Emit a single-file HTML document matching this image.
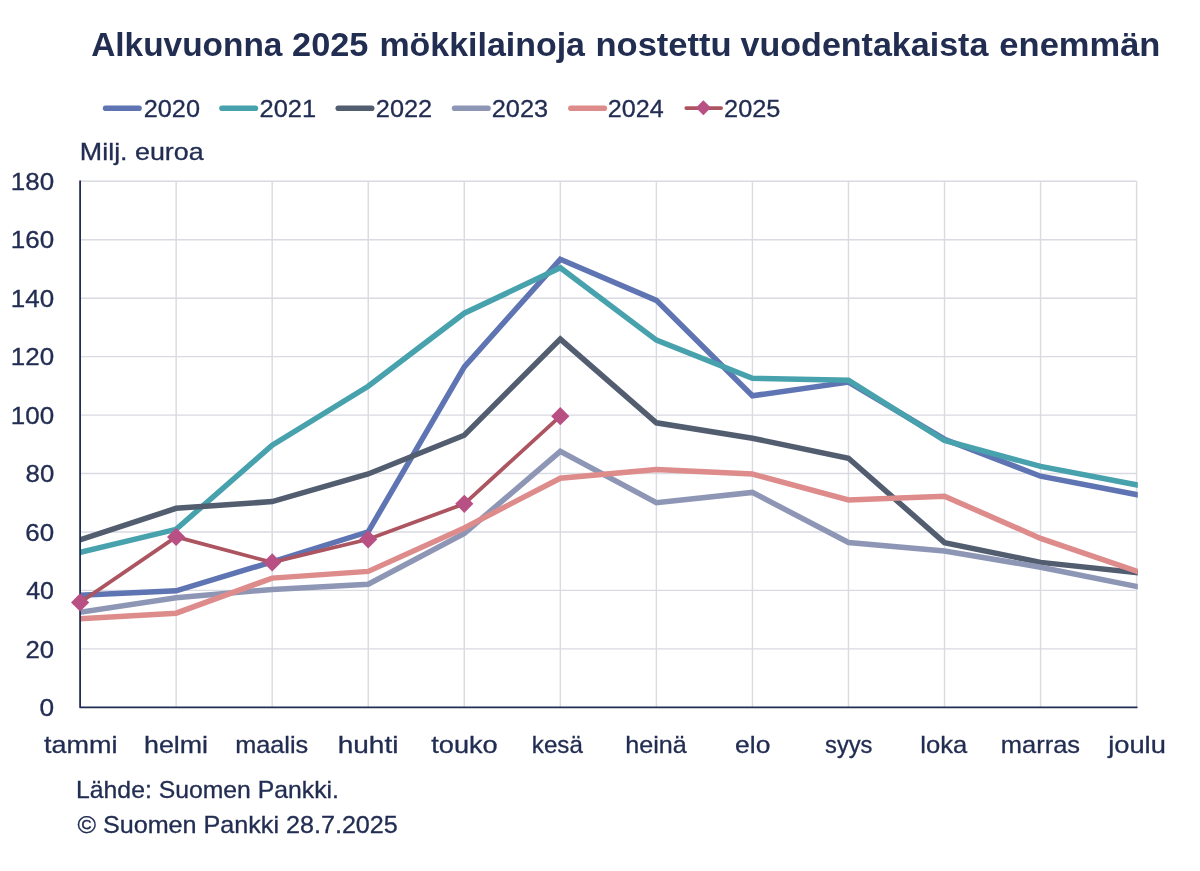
<!DOCTYPE html>
<html lang="fi"><head><meta charset="utf-8"><title>Alkuvuonna 2025 mökkilainoja nostettu vuodentakaista enemmän</title>
<style>html,body{margin:0;padding:0;background:#fff}svg{display:block}text{font-family:"Liberation Sans",sans-serif;fill:#222D52}.t{font-size:24px;stroke:#222D52;stroke-width:.3px}.h{font-size:34px;font-weight:bold}</style></head><body>
<svg width="1200" height="871" viewBox="0 0 1200 871">
<rect width="1200" height="871" fill="#fff"/>
<line x1="105.6" y1="108.2" x2="139.0" y2="108.2" stroke="#5F74B2" stroke-width="5.6" stroke-linecap="round"/>
<line x1="222.0" y1="108.2" x2="255.4" y2="108.2" stroke="#47A2AD" stroke-width="5.6" stroke-linecap="round"/>
<line x1="338.3" y1="108.2" x2="371.7" y2="108.2" stroke="#525E70" stroke-width="5.6" stroke-linecap="round"/>
<line x1="454.6" y1="108.2" x2="488.0" y2="108.2" stroke="#8E96B5" stroke-width="5.6" stroke-linecap="round"/>
<line x1="570.9" y1="108.2" x2="604.3" y2="108.2" stroke="#DE8B8B" stroke-width="5.6" stroke-linecap="round"/>
<line x1="686.3" y1="108.1" x2="721.1" y2="108.1" stroke="#AC5460" stroke-width="3.8" stroke-linecap="round"/>
<path d="M695.9 107.7L703.4 100.2L710.9 107.7L703.4 115.2Z" fill="#B85084"/>
<path d="M80.1 648.86H1136.6M80.1 590.41H1136.6M80.1 531.97H1136.6M80.1 473.52H1136.6M80.1 415.08H1136.6M80.1 356.63H1136.6M80.1 298.19H1136.6M80.1 239.74H1136.6M80.1 181.30H1136.6M176.15 181.3V707.3M272.19 181.3V707.3M368.24 181.3V707.3M464.28 181.3V707.3M560.33 181.3V707.3M656.37 181.3V707.3M752.42 181.3V707.3M848.46 181.3V707.3M944.51 181.3V707.3M1040.55 181.3V707.3M1136.60 181.3V707.3" fill="none" stroke="#D9DAE2" stroke-width="1.4"/>
<clipPath id="c"><rect x="80.1" y="150" width="1057.7" height="600"/></clipPath>
<g clip-path="url(#c)" fill="none" stroke-linejoin="miter" stroke-miterlimit="10" stroke-linecap="square">
<polyline points="80.1,595.2 176.1,590.8 272.2,561.8 368.2,531.8 464.3,366.9 560.3,259.3 656.4,300.4 752.4,395.8 848.5,382.1 944.5,439.2 1040.6,476.2 1136.6,494.6" stroke="#5F74B2" stroke-width="5.5"/>
<polyline points="80.1,552.4 176.1,529.3 272.2,445.2 368.2,386.3 464.3,313.2 560.3,267.8 656.4,340.1 752.4,378.3 848.5,380.3 944.5,440.5 1040.6,466.4 1136.6,484.9" stroke="#47A2AD" stroke-width="5.5"/>
<polyline points="80.1,539.9 176.1,508.3 272.2,501.6 368.2,474.0 464.3,435.2 560.3,339.1 656.4,422.8 752.4,438.2 848.5,458.2 944.5,542.6 1040.6,562.4 1136.6,572.6" stroke="#525E70" stroke-width="5.5"/>
<polyline points="80.1,612.3 176.1,597.7 272.2,589.4 368.2,584.3 464.3,533.4 560.3,451.3 656.4,502.7 752.4,492.4 848.5,542.5 944.5,551.0 1040.6,567.2 1136.6,586.5" stroke="#8E96B5" stroke-width="5.5"/>
<polyline points="80.1,618.8 176.1,613.2 272.2,578.1 368.2,571.4 464.3,527.9 560.3,478.2 656.4,469.4 752.4,474.1 848.5,500.0 944.5,496.2 1040.6,538.4 1136.6,571.1" stroke="#DE8B8B" stroke-width="5.5"/>
<polyline points="80.1,602.4 176.1,536.9 272.2,562.4 368.2,539.3 464.3,503.8 560.3,416.2" stroke="#AC5460" stroke-width="3.75" stroke-linecap="butt"/>
</g>
<path d="M80.1 180.6V707.3H1137.5" fill="none" stroke="#222D52" stroke-width="1.8" stroke-linejoin="round"/>
<path d="M71.0 602.4L80.1 593.3L89.2 602.4L80.1 611.5Z" fill="#B85084"/>
<path d="M167.0 536.9L176.1 527.8L185.2 536.9L176.1 546.0Z" fill="#B85084"/>
<path d="M263.1 562.4L272.2 553.3L281.3 562.4L272.2 571.5Z" fill="#B85084"/>
<path d="M359.1 539.3L368.2 530.2L377.3 539.3L368.2 548.4Z" fill="#B85084"/>
<path d="M455.2 503.8L464.3 494.7L473.4 503.8L464.3 512.9Z" fill="#B85084"/>
<path d="M551.2 416.2L560.3 407.1L569.4 416.2L560.3 425.3Z" fill="#B85084"/>
<text class="h"><tspan x="91.20" y="55.8" textLength="191.25" lengthAdjust="spacingAndGlyphs">Alkuvuonna</tspan> <tspan x="292.07" y="55.8" textLength="76.31" lengthAdjust="spacingAndGlyphs">2025</tspan> <tspan x="379.40" y="55.8" textLength="205.55" lengthAdjust="spacingAndGlyphs">mökkilainoja</tspan> <tspan x="595.45" y="55.8" textLength="136.26" lengthAdjust="spacingAndGlyphs">nostettu</tspan> <tspan x="740.58" y="55.8" textLength="247.80" lengthAdjust="spacingAndGlyphs">vuodentakaista</tspan> <tspan x="999.39" y="55.8" textLength="161.07" lengthAdjust="spacingAndGlyphs">enemmän</tspan></text>
<text class="t" x="143.69" y="116.6" textLength="56.26" lengthAdjust="spacingAndGlyphs">2020</text>
<text class="t" x="259.59" y="116.6" textLength="56.59" lengthAdjust="spacingAndGlyphs">2021</text>
<text class="t" x="375.83" y="116.6" textLength="56.30" lengthAdjust="spacingAndGlyphs">2022</text>
<text class="t" x="491.78" y="116.6" textLength="56.34" lengthAdjust="spacingAndGlyphs">2023</text>
<text class="t" x="607.84" y="116.6" textLength="55.91" lengthAdjust="spacingAndGlyphs">2024</text>
<text class="t" x="724.13" y="116.6" textLength="56.33" lengthAdjust="spacingAndGlyphs">2025</text>
<text class="t" x="79.89" y="160.4" textLength="123.75" lengthAdjust="spacingAndGlyphs">Milj. euroa</text>
<text class="t" x="39.52" y="715.9" textLength="14.64" lengthAdjust="spacingAndGlyphs">0</text>
<text class="t" x="25.53" y="657.5" textLength="28.62" lengthAdjust="spacingAndGlyphs">20</text>
<text class="t" x="26.23" y="599.0" textLength="27.82" lengthAdjust="spacingAndGlyphs">40</text>
<text class="t" x="25.34" y="540.6" textLength="28.85" lengthAdjust="spacingAndGlyphs">60</text>
<text class="t" x="25.64" y="482.1" textLength="28.64" lengthAdjust="spacingAndGlyphs">80</text>
<text class="t" x="10.78" y="423.7" textLength="43.34" lengthAdjust="spacingAndGlyphs">100</text>
<text class="t" x="10.78" y="365.2" textLength="43.34" lengthAdjust="spacingAndGlyphs">120</text>
<text class="t" x="10.78" y="306.8" textLength="43.34" lengthAdjust="spacingAndGlyphs">140</text>
<text class="t" x="10.78" y="248.3" textLength="43.34" lengthAdjust="spacingAndGlyphs">160</text>
<text class="t" x="10.78" y="189.9" textLength="43.34" lengthAdjust="spacingAndGlyphs">180</text>
<text class="t" x="44.00" y="753.0" textLength="73.42" lengthAdjust="spacingAndGlyphs">tammi</text>
<text class="t" x="144.02" y="753.0" textLength="64.04" lengthAdjust="spacingAndGlyphs">helmi</text>
<text class="t" x="235.23" y="753.0" textLength="73.00" lengthAdjust="spacingAndGlyphs">maalis</text>
<text class="t" x="337.67" y="753.0" textLength="60.76" lengthAdjust="spacingAndGlyphs">huhti</text>
<text class="t" x="431.29" y="753.0" textLength="66.43" lengthAdjust="spacingAndGlyphs">touko</text>
<text class="t" x="531.85" y="753.0" textLength="50.96" lengthAdjust="spacingAndGlyphs">kesä</text>
<text class="t" x="625.22" y="753.0" textLength="61.48" lengthAdjust="spacingAndGlyphs">heinä</text>
<text class="t" x="735.13" y="753.0" textLength="35.22" lengthAdjust="spacingAndGlyphs">elo</text>
<text class="t" x="825.04" y="753.0" textLength="47.43" lengthAdjust="spacingAndGlyphs">syys</text>
<text class="t" x="920.27" y="753.0" textLength="46.89" lengthAdjust="spacingAndGlyphs">loka</text>
<text class="t" x="1000.89" y="753.0" textLength="79.21" lengthAdjust="spacingAndGlyphs">marras</text>
<text class="t" x="1108.20" y="753.0" textLength="57.62" lengthAdjust="spacingAndGlyphs">joulu</text>
<text class="t" x="76.06" y="797.5" textLength="262.91" lengthAdjust="spacingAndGlyphs">Lähde: Suomen Pankki.</text>
<text class="t" x="77.42" y="832.8" textLength="320.41" lengthAdjust="spacingAndGlyphs">© Suomen Pankki 28.7.2025</text>
</svg></body></html>
